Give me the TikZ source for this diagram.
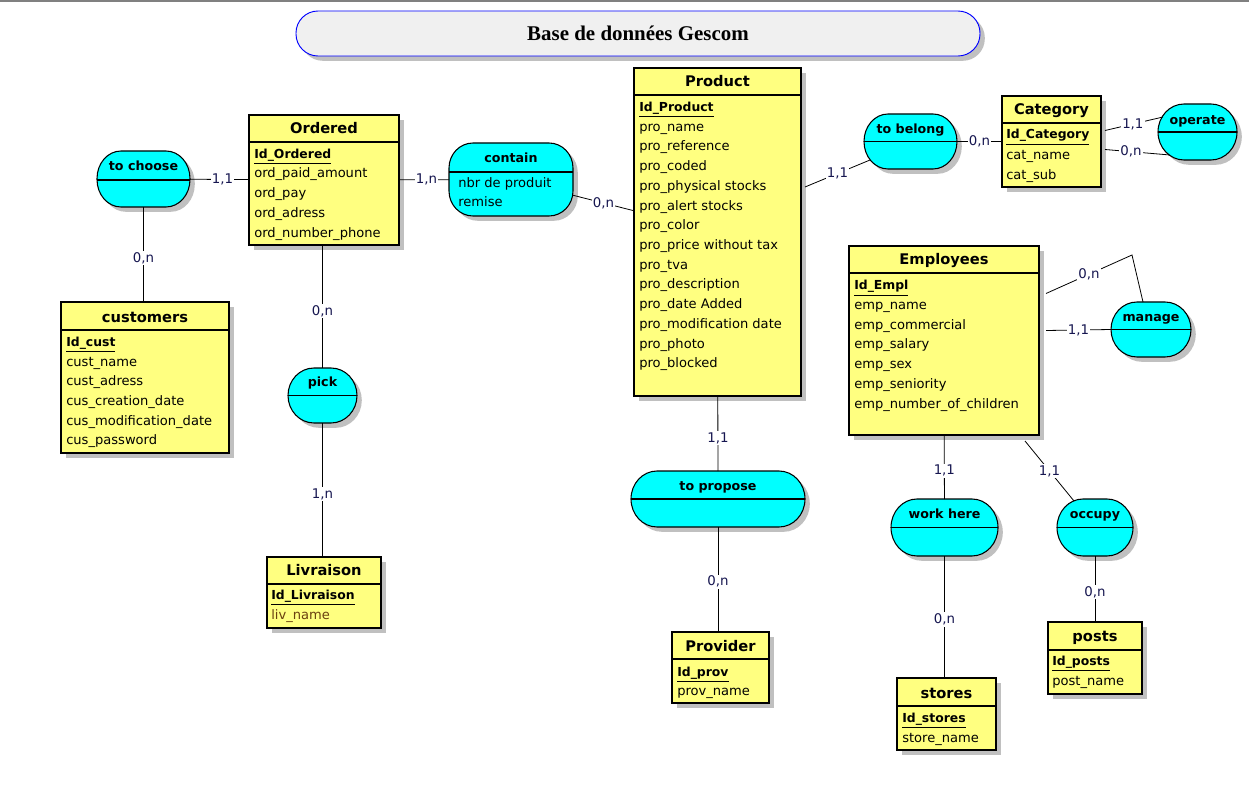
\documentclass[tikz,border=0pt]{standalone}
\usepackage{fontspec}
\setmainfont{DejaVu Sans}
\newfontfamily\titlefont{Liberation Serif}
\usetikzlibrary{fit,shadows,calc}
\definecolor{entyellow}{HTML}{FFFF80}
\definecolor{asscyan}{HTML}{00FFFF}
\definecolor{titlegray}{HTML}{F0F0F0}
\definecolor{shadowgray}{HTML}{C0C0C0}
\definecolor{cardnavy}{HTML}{161650}
\definecolor{livbrown}{HTML}{6A4010}
\newcommand\idatt[1]{\underline{\fontsize{9.3}{11}\selectfont\bfseries #1}}
\newcommand\attrs[4]{%
  \foreach \t [count=\i from 0] in {#4} {\node[attr] (#1\i) at (#2,{#3+19.7*\i}) {\t};}}
% association shape: name, x1, y1, x2, y2, rx, ry (px)
\newcommand\assoc[7]{%
  \fill[shadowgray, shift={(4.8,4.8)}] ({#2+#6},#3) -- ({#4-#6},#3)
    arc[start angle=90,end angle=0,x radius={#6*0.75pt},y radius={#7*0.75pt}] -- (#4,{#5-#7})
    arc[start angle=0,end angle=-90,x radius={#6*0.75pt},y radius={#7*0.75pt}] -- ({#2+#6},#5)
    arc[start angle=-90,end angle=-180,x radius={#6*0.75pt},y radius={#7*0.75pt}] -- (#2,{#3+#7})
    arc[start angle=180,end angle=90,x radius={#6*0.75pt},y radius={#7*0.75pt}] -- cycle;
  \filldraw[assshape] ({#2+#6},#3) -- ({#4-#6},#3)
    arc[start angle=90,end angle=0,x radius={#6*0.75pt},y radius={#7*0.75pt}] -- (#4,{#5-#7})
    arc[start angle=0,end angle=-90,x radius={#6*0.75pt},y radius={#7*0.75pt}] -- ({#2+#6},#5)
    arc[start angle=-90,end angle=-180,x radius={#6*0.75pt},y radius={#7*0.75pt}] -- (#2,{#3+#7})
    arc[start angle=180,end angle=90,x radius={#6*0.75pt},y radius={#7*0.75pt}] -- cycle;
  \node[inner sep=0pt, outer sep=0pt, fit={(#2,#3) (#4,#5)}] (#1) {};}
\tikzset{
 sh/.style={drop shadow={shadow xshift=3.6pt, shadow yshift=-3.6pt, fill=shadowgray, opacity=1}},
 ent/.style={draw=black, line width=0.8pt, fill=entyellow, inner sep=0pt, outer sep=0pt, sh},
 assshape/.style={draw=black, line width=0.8pt, fill=asscyan},
 etitle/.style={anchor=base, inner sep=0pt, font=\fontsize{11}{13}\selectfont\bfseries},
 atitle/.style={anchor=base, inner sep=0pt, font=\fontsize{9.5}{11}\selectfont\bfseries},
 attr/.style={anchor=base west, inner sep=0pt, font=\fontsize{9.8}{11.6}\selectfont},
 sep/.style={line width=0.8pt},
 link/.style={line width=0.6pt, draw=black},
 card/.style={fill=white, text=cardnavy, inner sep=1pt, font=\fontsize{10}{12}\selectfont},
}
\begin{document}
\begin{tikzpicture}[x=0.75pt, y=-0.75pt]
\useasboundingbox (0,0) rectangle (1249,802);
\fill[white] (0,0) rectangle (1249,802);
\draw[draw=gray, line width=1.2pt] (0,0.8) -- (1249,0.8);

% title
\node[draw=blue, line width=0.7pt, fill=titlegray, rounded corners=16.5pt, inner sep=0pt, sh, fit={(296,11) (980,56)}] (titlebox) {};
\node[font=\titlefont\fontsize{15.7}{18}\selectfont\bfseries, anchor=base] (titletext) at (638,41) {Base de données Gescom};

% ---------- entities ----------
% Ordered
\node[ent, fit={(249,115) (399,245)}] (ordered) {};
\draw[sep] ($(ordered.north west)+(0,27)$) -- ($(ordered.north east)+(0,27)$);
\node[etitle] (ordt) at (324,134) {Ordered};
\node[attr] (ordid) at (254,158.5) {\idatt{Id\_Ordered}};
\attrs{orda}{254}{178}{ord\_paid\_amount,ord\_pay,ord\_adress,ord\_number\_phone}

% Product
\node[ent, fit={(634,68) (801,396)}] (product) {};
\draw[sep] ($(product.north west)+(0,27)$) -- ($(product.north east)+(0,27)$);
\node[etitle] (prodt) at (717.5,87) {Product};
\node[attr] (prodid) at (639,111.5) {\idatt{Id\_Product}};
\attrs{proda}{639}{131.3}{pro\_name,pro\_reference,pro\_coded,pro\_physical stocks,pro\_alert stocks,pro\_color,pro\_price without tax,pro\_tva,pro\_description,pro\_date Added,pro\_modification date,pro\_photo,pro\_blocked}

% Category
\node[ent, fit={(1002,96) (1101,187)}] (category) {};
\draw[sep] ($(category.north west)+(0,27)$) -- ($(category.north east)+(0,27)$);
\node[etitle] (catt) at (1051.5,115) {Category};
\node[attr] (catid) at (1006,139) {\idatt{Id\_Category}};
\attrs{cata}{1006}{159.5}{cat\_name,cat\_sub}

% Employees
\node[ent, fit={(849,246) (1039,435)}] (employees) {};
\draw[sep] ($(employees.north west)+(0,27)$) -- ($(employees.north east)+(0,27)$);
\node[etitle] (empt) at (944,265) {Employees};
\node[attr] (empid) at (854,290) {\idatt{Id\_Empl}};
\attrs{empa}{854}{309.5}{emp\_name,emp\_commercial,emp\_salary,emp\_sex,emp\_seniority,emp\_number\_of\_children}

% customers
\node[ent, fit={(61,302) (229,453)}] (customers) {};
\draw[sep] ($(customers.north west)+(0,28)$) -- ($(customers.north east)+(0,28)$);
\node[etitle] (cust) at (145,322) {customers};
\node[attr] (custid) at (66,346.5) {\idatt{Id\_cust}};
\attrs{custa}{66}{366}{cust\_name,cust\_adress,cus\_creation\_date,cus\_modification\_date,cus\_password}

% Livraison
\node[ent, fit={(267,557) (381,628)}] (livraison) {};
\draw[sep] ($(livraison.north west)+(0,27)$) -- ($(livraison.north east)+(0,27)$);
\node[etitle] (livt) at (324,575) {Livraison};
\node[attr] (livid) at (271,599.5) {\idatt{Id\_Livraison}};
\node[attr] (liva0) at (271,619.5) {\textcolor{livbrown}{liv\_name}};

% Provider
\node[ent, fit={(672,632) (769,703)}] (provider) {};
\draw[sep] ($(provider.north west)+(0,27)$) -- ($(provider.north east)+(0,27)$);
\node[etitle] (provt) at (720.5,651) {Provider};
\node[attr] (provid) at (677,676) {\idatt{Id\_prov}};
\node[attr] (prova0) at (677,695.5) {prov\_name};

% stores
\node[ent, fit={(897,678) (996,750)}] (stores) {};
\draw[sep] ($(stores.north west)+(0,28)$) -- ($(stores.north east)+(0,28)$);
\node[etitle] (stot) at (946.5,698) {stores};
\node[attr] (stoid) at (902,722.5) {\idatt{Id\_stores}};
\node[attr] (stoa0) at (902,742) {store\_name};

% posts
\node[ent, fit={(1048,622) (1142,694)}] (posts) {};
\draw[sep] ($(posts.north west)+(0,28)$) -- ($(posts.north east)+(0,28)$);
\node[etitle] (post) at (1095,641) {posts};
\node[attr] (posid) at (1052,665.5) {\idatt{Id\_posts}};
\node[attr] (posa0) at (1052,685) {post\_name};

% ---------- associations ----------
\assoc{choose}{97}{151}{190}{207}{24}{27.5}
\draw[sep] (97,180) -- (190,180);
\node[atitle] (chooset) at (143.5,170.5) {to choose};

\assoc{contain}{449}{143}{573}{216}{24}{25}
\draw[sep] (449,172) -- (573,172);
\node[atitle] (containt) at (511,162.5) {contain};
\node[attr] (containa0) at (458,187.5) {nbr de produit};
\node[attr] (containa1) at (458,207) {remise};

\assoc{belong}{864}{114}{957}{169}{24}{27.5}
\draw[sep] (864,141.5) -- (957,141.5);
\node[atitle] (belongt) at (910.5,133.5) {to belong};

\assoc{operate}{1158}{104}{1237}{160}{26}{28}
\draw[sep] (1158,132) -- (1237,132);
\node[atitle] (operatet) at (1197.5,124.5) {operate};

\assoc{manage}{1111}{302}{1191}{357}{26}{27.5}
\draw[sep] (1111,329.5) -- (1191,329.5);
\node[atitle] (managet) at (1151,321.5) {manage};

\assoc{pick}{288}{368}{357}{423}{26}{27.5}
\draw[sep] (288,395.5) -- (357,395.5);
\node[atitle] (pickt) at (322.5,386.5) {pick};

\assoc{propose}{631}{471}{805}{527}{26}{28}
\draw[sep] (631,499) -- (805,499);
\node[atitle] (proposet) at (718,490.5) {to propose};

\assoc{workhere}{891}{499}{998}{556}{26}{28.5}
\draw[sep] (891,527.5) -- (998,527.5);
\node[atitle] (workheret) at (944.5,518.5) {work here};

\assoc{occupy}{1057}{499}{1133}{556}{26}{28.5}
\draw[sep] (1057,527.5) -- (1133,527.5);
\node[atitle] (occupyt) at (1095,518.5) {occupy};

% ---------- connectors ----------
\draw[link] (choose) -- node[card, pos=0.55]{1,1} (ordered);
\draw[link] (ordered) -- node[card, pos=0.55]{1,n} (contain);
\draw[link] (contain) -- node[card]{0,n} (product);
\draw[link] ($(product.east)+(4,-45)$) -- node[card]{1,1} ($(belong.south west)+(6,-9)$);
\draw[link] (belong) -- node[card]{0,n} (category);
\draw[link] ($(category.east)+(4,-11)$) -- node[card, pos=0.48]{1,1} ($(operate.west)+(5,-15)$);
\draw[link] ($(category.east)+(4,8)$) -- node[card, pos=0.4]{0,n} ($(operate.west)+(12,23)$);
\coordinate (mgcorner) at (1132,255);
\draw[link] ($(employees.east)+(7,-47)$) -- node[card]{0,n} (mgcorner) -- ($(manage.north)+(-8,0)$);
\draw[link] ($(employees.east)+(7,-10)$) -- node[card]{1,1} (manage.west);
\draw[link] (employees) -- node[card, pos=0.56]{1,1} (workhere);
\draw[link] (workhere.south) -- node[card, pos=0.52]{0,n} (workhere.south |- stores.north);
\draw[link] ($(employees.south east)+(-14,6)$) -- node[card]{1,1} ($(occupy.north)+(-21,2)$);
\draw[link] (occupy) -- node[card, pos=0.55]{0,n} (posts);
\draw[link] (product) -- node[card, pos=0.56]{1,1} (propose);
\draw[link] (propose.south) -- node[card, pos=0.52]{0,n} (propose.south |- provider.north);
\draw[link] (choose.south) -- node[card, pos=0.54]{0,n} (choose.south |- customers.north);
\draw[link] (pick.north |- ordered.south) -- node[card, pos=0.54]{0,n} (pick.north);
\draw[link] (pick.south) -- node[card, pos=0.53]{1,n} (pick.south |- livraison.north);
\end{tikzpicture}
\end{document}
